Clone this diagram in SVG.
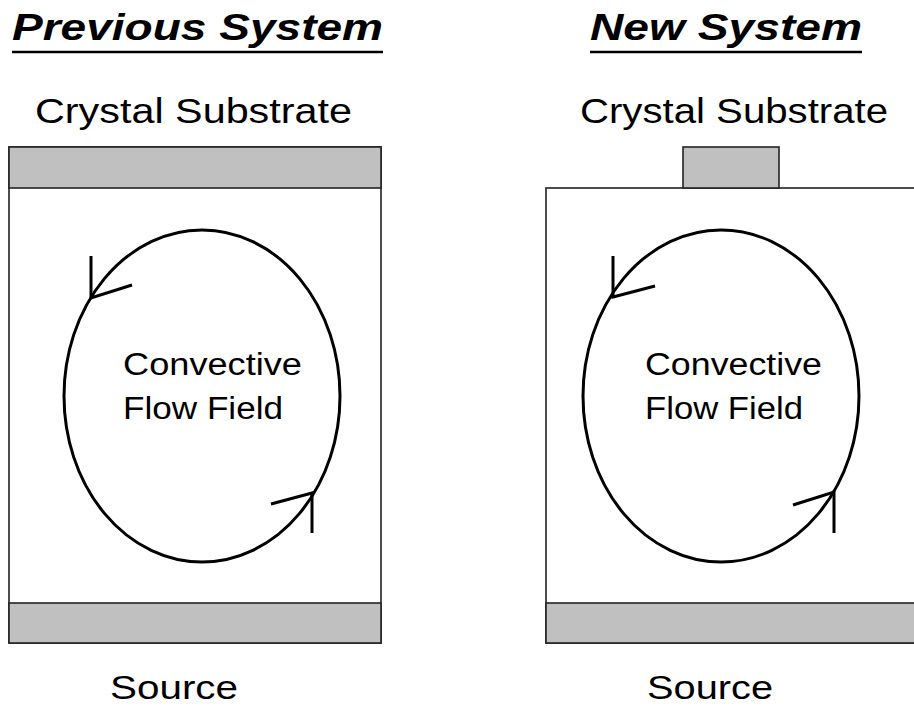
<svg xmlns="http://www.w3.org/2000/svg" width="914" height="707" viewBox="0 0 914 707">
  <style>
    .title { font-family: "Liberation Sans", Arial, sans-serif; font-weight: bold; font-style: italic; font-size: 37px; fill: #000; }
    .label { font-family: "Liberation Sans", Arial, sans-serif; font-size: 35px; fill: #000; }
    .source { font-family: "Liberation Sans", Arial, sans-serif; font-size: 34px; fill: #000; }
    .flow { font-family: "Liberation Sans", Arial, sans-serif; font-size: 31px; fill: #000; }
    .chamber { fill: #fff; stroke: #222; stroke-width: 1.6; }
    .plate { fill: #c0c0c0; stroke: #222; stroke-width: 1.6; }
    .loop { fill: none; stroke: #000; stroke-width: 3; }
    .barb { fill: none; stroke: #000; stroke-width: 3; stroke-linecap: butt; }
    .rule { stroke: #000; stroke-width: 2.4; }
  </style>
  <rect width="914" height="707" fill="#fff"/>

  <!-- Previous system -->
  <g id="previous-title">
    <text class="title" x="12" y="40" textLength="371" lengthAdjust="spacingAndGlyphs">Previous System</text>
    <line class="rule" x1="12" y1="52" x2="383" y2="52"/>
  </g>
  <g id="previous-substrate-label">
    <text class="label" x="35" y="123" textLength="317" lengthAdjust="spacingAndGlyphs">Crystal Substrate</text>
  </g>
  <g id="previous-chamber">
    <rect class="chamber" x="9" y="147" width="372" height="496"/>
  </g>
  <g id="previous-substrate">
    <rect class="plate" x="9" y="147" width="372" height="41"/>
  </g>
  <g id="previous-source">
    <rect class="plate" x="9" y="603" width="372" height="40"/>
  </g>
  <g id="previous-flow">
    <ellipse class="loop" cx="202" cy="396" rx="138" ry="166"/>
    <text class="flow" x="123" y="375" textLength="179" lengthAdjust="spacingAndGlyphs">Convective</text>
    <text class="flow" x="123" y="419" textLength="160" lengthAdjust="spacingAndGlyphs">Flow Field</text>
  </g>
  <g id="previous-source-label">
    <text class="source" x="110" y="699" textLength="128" lengthAdjust="spacingAndGlyphs">Source</text>
  </g>

  <!-- New system -->
  <g id="new-title">
    <text class="title" x="590" y="40" textLength="272" lengthAdjust="spacingAndGlyphs">New System</text>
    <line class="rule" x1="590" y1="52" x2="862" y2="52"/>
  </g>
  <g id="new-substrate-label">
    <text class="label" x="580" y="123" textLength="308" lengthAdjust="spacingAndGlyphs">Crystal Substrate</text>
  </g>
  <g id="new-chamber">
    <rect class="chamber" x="546" y="188" width="372" height="455"/>
  </g>
  <g id="new-substrate">
    <rect class="plate" x="683" y="147" width="96" height="41"/>
  </g>
  <g id="new-source">
    <rect class="plate" x="546" y="603" width="372" height="40"/>
  </g>
  <g id="new-flow">
    <ellipse class="loop" cx="721" cy="396" rx="138" ry="166"/>
    <text class="flow" x="645" y="375" textLength="177" lengthAdjust="spacingAndGlyphs">Convective</text>
    <text class="flow" x="645" y="419" textLength="158" lengthAdjust="spacingAndGlyphs">Flow Field</text>
  </g>
  <g id="new-source-label">
    <text class="source" x="647" y="699" textLength="126" lengthAdjust="spacingAndGlyphs">Source</text>
  </g>

  <!-- Circulation arrowheads -->
  <g id="connectors">
    <polyline class="barb" points="91,256 91,298 132,285"/>
    <polyline class="barb" points="271,504 312,493 312,533"/>
    <polyline class="barb" points="613,256 613,297 655,286"/>
    <polyline class="barb" points="793,505 834,492 834,533"/>
  </g>
</svg>
